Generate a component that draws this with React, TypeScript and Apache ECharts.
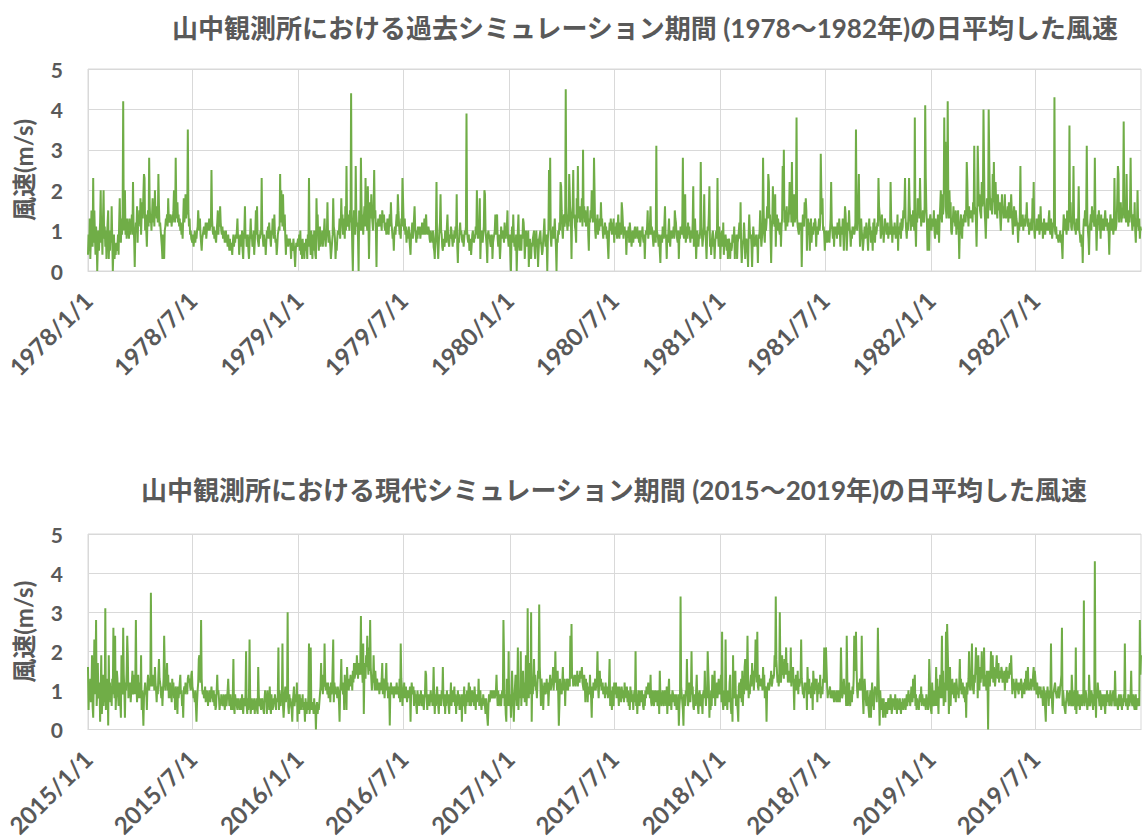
import { useEffect, useRef } from "react";
import * as echarts from "echarts";

// Daily mean wind speed: one character per day, value = index in SCALE / 10 (m/s).
// Groups of ten days are separated by spaces only for readability.
const SCALE = "0123456789abcdefghijklmnopqrstuvwxyzABCDEFGHIJ";

const wind1978 = `
495d38f96n 7f94b806a5 9ck7a4dk8b 6a39cf385a 7g80593647 5694cia7d9
eGagk9c8da b8d9cae9mb 819cag7dbf ci9ehdjona ea6cfbsgcd aeicfbkegd
fcogbca863 973abdcebi dcecdbecfk fcsgdhcebd ac9b8dicej dgezfbd9a8
87968a798a bfcad97589 ab9ac8acba dacbpda9b8 a87acf9dbg ca9b8a978a
7869758576 47968798ad 8947896a53 8ag8967953 79d8967a47 af9g87698a
9na8697847 a9b8c986a9 da8e978469 9baockfbjc ae84978687 8637658641
57668`;

const wind1979 = `
695a473856 37586396n8 74a6395a74 3ibe859b69 7a69ad86a9 h97a863579
iba83658a9 ad8bice9db 8gaqcbedaf cIe60afc9q ebc80fdash ae9dgbnfca
lc3bhdjeca gpdfa1cbdc bedcafdceb ac9bda9ceb hca895ab9c ebjfc9a8db
nicad9b7a8 ab8649ac8a dgb97a8b9a b8a9cb9ad9 cea99ba87a 897a6538am
8637acja96 5876a97be9 7698ba8697 a8b9j6287a c9a87968a9 bDa8795684
49a8798b9k a89bi38a97 9bkja8629a 8976893789 ae9ce86973 6b98a97ca8
abf86`;

const wind1980 = `
69408b7e96 85906ae759 7598dc937a 698a168537 689a537a68 1589a76458
ad869708ap as86a9b8ad 96087a9cam lfa8cebdJg caebojdc3e gpdeba7icq
fdgcfeibud gcfbdcg95d cfdkgcesja 8dbe9cadbh cda8b9cab8 a639cadb9c
ad7b9ac8be a8bc9hfc8a b9a48a9b7c a968a79ab8 a9b897a68a 9b87938a9b
f8a9cg9ba8 69a87va986 952897ba8c g98397ad86 9a8a9b8fdc 987a398ba9
cs98dj79b8 c9b97aa8cl 6ad937a869 8arb968aj9 a738bael68 479a68379a
8n96b9`;

const wind1981 = `
389a6c4869 7583686375 6978b38693 78ac8h6257 8c93687519 ea89617b96
87968298af 968bsf97da cgdomde82a dlecbj6cea dba9c6bdqf ucfadgbecf
mejcrdbfjc egCdba9cba c1aecbhdif 5ad9c5bd7a b9cadc6ab9 bdactjeiab
958a978a97 admca8b6ab 9b8ca9da6b a9d95bgea5 9cafb96a8b ab9aczeadh
oc6ada8579 b89ca85ad9 b7a95cad7b 9acbngec8a e9b7adcb9a c8ab9mdb7a
b9ca8bae5b 9ac8dabfdg nda8caengd aecbfdaCb6 ecifhdngbe cfdcgFnfc5
da5de`;

const wind1982 = `
eadcbfa8da c9eb7dgkec jegCjwfdhG idkfha9bdg cebf9dcfa3 acea8dbecf
cfrmebgdef dfchevgfc6 evngjfedmg iEqfc8eigd Esjfigeohr hemgfdjgfh
daejfgdeje dfegchedfj fc9dgebfdc b7caeqbdce adcbedhcbd 9cabdaicma
8badbace9b gbac8bda9c abcadfa9db 8acbHa9b89 8798a7963a ecadb9fcad
Achbadcqca c9dbacla97 9682adcfbe vda84bceag cfdbsdc5be cfad8eacdb
adfcbdac94 becadc9bnc abdjqocgdh cedgBhdfco edbfcgsfda cebha7dbkc
ad8ba`;

const wind2015 = `
g5c8d7aj63 cn9ds6ah89 c2aj48e6b7 v5c9d1j8c7 b6d9qb8o5a fd96ca73jb
9qea3cafoj 8b9c7acf9b e9dsb7ce8a c8j5a618ac 9a5becadbz dbecdagca7
b9eidca8b6 adogaechae 8bc8a7d9c8 a5ba94b8ac e9a683ab9c ab9decdbae
fba897a627 acijecsda9 a89b7a8a69 8a79b897a6 956ae9a857 6978698579
68ad967956 59i6497865 8675875964 7869k64859 n946857684 76854g9686
5786548a79 4a795b6496 5687965879 l5a8697m63 69b798u649 7865279b68
97c29`;

const wind2016 = `
7496586957 62864759m4 6l65764856 06746579bh ae9cbmdacb 9c8ba7c9aa
n7cab9a8b9 72aciab9c5 eac5gcbadc ebdafchdeh ejgdhfehte gcm4ehdjgo
helfsgdaec jdafcadbac 9cabdh9dc8 bdhac89b1a ca9ba8ab9a c9ab8d7mdb
6a9c8ab97a 8a9b29ca9b 6a8964a896 97a6897589 fe8596968a 7969g84969
b8649796a8 g869496a79 6498c69a79 b69486a795 8692968b74 96a79c6b86
9a796b8597 98d69a7586 9786486316 978a89a89a 89ae96a689 869a8sj694
2d96k6`;

const wind2017 = `
693af9628b e96al59a8k 6b9f8c7aj6 avb8hc9u2d 9dibeab8cf dwgc6dba5a
c9bad9c6ac eabdcgadck cdaf916dab 9cgabd6cad badcbodrde bdcebdcfbe
dcfdegcbae c7dac7ba9e a83b8cabda cdkb8cfbda bc9ab8ca9b 8aci6a85b8
6ca9c8ab96 b9a7b98a7c 9a8b7a695b 8a7958a7k6 948a96a87a 86596a8b9a
c9a8e769a8 69a79a68a4 f9869a869a 96b48ad698 58a9796895 869168yb97
51986a9i96 8c97ak9b65 896ae8649a 869749a8f9 6a8kfb395a 6eb8af6b9c
8ad9b`;

const wind2018 = `
9e7p75a86n a85a97ce64 82j89bf697 52bc8ad7f6 b9gicaeod8 b9cebhcfad
gnhcpbaecd bdcagce8ba 2abcabdcfb cedejgyifc ebdufcgjef dieglehcfd
eclbfdgb5d aecaf9dbcd ndb9a8cabc 5gb9dab8ac 5fc9dbad7b 9cae8ba9dc
leclgb8a9a b8a98a97a8 97a97a87bl d89ada9b6o d69c869a7b 9dohfpga8c
abdaboe84a da869a7538 a39c685ab9 a7cqf81a75 8638463754 6875697468
6759674867 5864768576 857968a796 8b97d8ce69 58675897b6 9786875978
58id6`;

const wind2019 = `
64c968a69g 6d84b9e8co 8f69c7parr e49g6bad9b 8ca7db9a8c iad9bca8b7
a3c9bdkcad emae9dcgle h8jdagcekd fbldbeafc0 fcbekfdjcg ebdgjedhcf
edgfcedfad fgcefdghej e9cdac8bda ca9cbadc8b ac9dbfadgb acbdacbega
fdb9ca8ba9 b8a96ba852 a8b96a89ma 649abca989 ab89bceq6a 865478a976
9a86ea689a 5l49a68957 89689x68a9 7586ea68a9 7596Ha398c a86a958968
96496a8796 8a7689a86f 9687589769 758697m867 8597689f76 8965795867
86sej`;

const pastYears = [1978, 1979, 1980, 1981, 1982];
const pastWind = [wind1978, wind1979, wind1980, wind1981, wind1982];
const presentYears = [2015, 2016, 2017, 2018, 2019];
const presentWind = [wind2015, wind2016, wind2017, wind2018, wind2019];

const pastTitle = "山中観測所における過去シミュレーション期間 (1978～1982年)の日平均した風速";
const presentTitle = "山中観測所における現代シミュレーション期間 (2015～2019年)の日平均した風速";
const yAxisName = "風速(m/s)";
const yMin = 0;
const yMax = 5;
const yStep = 1;

const FONT = "Lato, 'Noto Sans CJK JP', sans-serif";
const TEXT_COLOR = "#595959";
const GRID_COLOR = "#D9D9D9";
const LINE_COLOR = "#70AD47";

function decode(s: string): number[] {
  return s
    .replace(/\s+/g, "")
    .split("")
    .map((c) => SCALE.indexOf(c) / 10);
}

function buildSeries(years: number[], encoded: string[]) {
  const dates: string[] = [];
  const values: (number | null)[] = [];
  years.forEach((year, i) => {
    const v = decode(encoded[i]);
    let k = 0;
    for (
      let t = new Date(Date.UTC(year, 0, 1));
      t.getUTCFullYear() === year;
      t = new Date(t.getTime() + 86400000)
    ) {
      dates.push(`${year}/${t.getUTCMonth() + 1}/${t.getUTCDate()}`);
      values.push(k < v.length ? v[k] : null);
      k++;
    }
  });
  return { dates, values };
}

// Labels and vertical grid lines on 1 Jan and 1 Jul
const isHalfYear = (_: number, value: string) => {
  const p = String(value).split("/");
  return p[2] === "1" && (p[1] === "1" || p[1] === "7");
};

const GRID_LEFT = 88;
const GRID_WIDTH = 1053;
const GRID_HEIGHT = 202;
const GRID_TOPS = [69, 534];

function buildOption() {
  const panels = [buildSeries(pastYears, pastWind), buildSeries(presentYears, presentWind)];
  return {
    animation: false,
    backgroundColor: "#ffffff",
    grid: GRID_TOPS.map((top) => ({
      left: GRID_LEFT,
      top,
      width: GRID_WIDTH,
      height: GRID_HEIGHT,
      show: true,
      borderColor: GRID_COLOR,
      borderWidth: 1,
      containLabel: false,
    })),
    xAxis: panels.map((p, i) => ({
      type: "category",
      gridIndex: i,
      data: p.dates,
      boundaryGap: false,
      axisLine: { show: true, lineStyle: { color: GRID_COLOR, width: 1 } },
      axisTick: { show: false },
      axisLabel: {
        interval: isHalfYear,
        rotate: 45,
        margin: 25,
        color: TEXT_COLOR,
        fontSize: 24,
        fontWeight: "bold",
        fontFamily: FONT,
      },
      splitLine: { show: true, interval: isHalfYear, lineStyle: { color: GRID_COLOR, width: 1 } },
    })),
    yAxis: panels.map((_, i) => ({
      type: "value",
      gridIndex: i,
      min: yMin,
      max: yMax,
      interval: yStep,
      name: yAxisName,
      nameLocation: "middle",
      nameGap: 53,
      nameRotate: 90,
      nameTextStyle: { color: TEXT_COLOR, fontSize: 24, fontWeight: "bold", fontFamily: FONT },
      axisLine: { show: false },
      axisTick: { show: false },
      axisLabel: { margin: 25, color: TEXT_COLOR, fontSize: 21, fontWeight: "bold", fontFamily: FONT },
      splitLine: { show: true, lineStyle: { color: GRID_COLOR, width: 1 } },
    })),
    series: panels.map((p, i) => ({
      type: "line",
      xAxisIndex: i,
      yAxisIndex: i,
      data: p.values,
      showSymbol: false,
      symbol: "none",
      lineStyle: { color: LINE_COLOR, width: 2 },
      emphasis: { disabled: true },
    })),
    graphic: [
      {
        type: "text",
        x: 645,
        y: 28,
        style: {
          text: pastTitle,
          align: "center",
          verticalAlign: "middle",
          fill: TEXT_COLOR,
          font: `bold 26px ${FONT}`,
        },
      },
      {
        type: "text",
        x: 614,
        y: 490,
        style: {
          text: presentTitle,
          align: "center",
          verticalAlign: "middle",
          fill: TEXT_COLOR,
          font: `bold 26px ${FONT}`,
        },
      },
    ],
  };
}

export default function App() {
  const ref = useRef<HTMLDivElement>(null);
  useEffect(() => {
    if (!ref.current) return;
    const chart = echarts.init(ref.current, null, { renderer: "svg" });
    chart.setOption(buildOption() as any);
    return () => chart.dispose();
  }, []);
  return (
    <div
      ref={ref}
      style={{ position: "absolute", left: 0, top: 0, width: 1142, height: 840, background: "#ffffff" }}
    />
  );
}
